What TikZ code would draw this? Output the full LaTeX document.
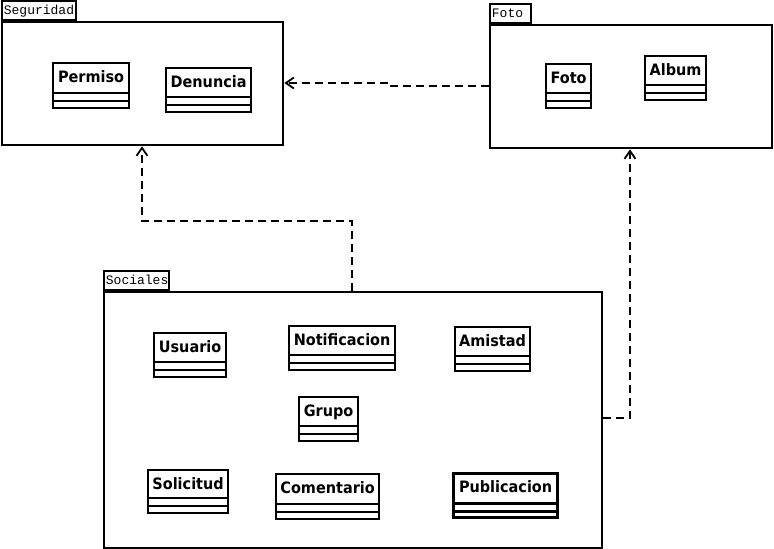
\documentclass[tikz,border=0pt]{standalone}
\usepackage{fontspec}
\newfontfamily\clsfont{DejaVu Sans}[FakeStretch=0.92]
\newfontfamily\pkgfont{Liberation Mono}
\usetikzlibrary{arrows.meta,calc}
\tikzset{
  pkg/.style={draw, line width=2.3pt, inner sep=0pt, anchor=north west},
  pkgtab/.style={draw, line width=1.8pt, inner xsep=2pt, inner ysep=0pt, minimum height=19pt,
    anchor=south west, align=left, font=\pkgfont\fontsize{13}{14}\selectfont, text height=10pt, text depth=3pt},
  clsbox/.style={draw, line width=2.2pt, inner sep=0pt, anchor=north west},
  clsname/.style={anchor=base, inner sep=0pt, font=\clsfont\bfseries\fontsize{15.7}{18}\selectfont},
  thickcls/.style={line width=3.2pt},
  dep/.style={draw, line width=2.2pt, dash pattern=on 8pt off 5pt,
    -{Straight Barb[length=8pt,width=11pt,line width=1.8pt]}},
}
\newcommand{\umlcls}[7][]{%
  \node[clsbox,#1,minimum width={#4-#2},minimum height={#5-#3}] (#6) at (#2,#3) {};
  \draw[line width=2.2pt,#1] ($(#6.south west)+(0,-16)$) -- ($(#6.south east)+(0,-16)$);
  \draw[line width=2.2pt,#1] ($(#6.south west)+(0,-8)$) -- ($(#6.south east)+(0,-8)$);
  \node[clsname] (#6t) at ($(#6.north)+(0,20)$) {#7};
}
\begin{document}
\begin{tikzpicture}[x=1pt,y=-1pt]
\useasboundingbox (0,0) rectangle (774,549);
% packages
\node[pkg, minimum width=281, minimum height=123] (seg) at (1,21) {};
\node[pkgtab, text width=70pt] (segtab) at (seg.north west) {Seguridad};
\node[pkg, minimum width=282, minimum height=123] (fot) at (489,24) {};
\node[pkgtab, text width=37pt] (fottab) at (fot.north west) {Foto};
\node[pkg, minimum width=498, minimum height=256] (soc) at (103,291) {};
\node[pkgtab, text width=61pt] (soctab) at (soc.north west) {Sociales};
% classes
\umlcls{52}{62}{128}{107}{cPermiso}{Permiso}
\umlcls{165}{67}{250}{111}{cDenuncia}{Denuncia}
\umlcls{545}{63}{590}{107}{cFoto}{Foto}
\umlcls{644}{55}{705}{99}{cAlbum}{Album}
\umlcls{153}{332}{225}{376}{cUsuario}{Usuario}
\umlcls{288}{325}{394}{369}{cNotif}{Notificacion}
\umlcls{454}{326}{529}{370}{cAmistad}{Amistad}
\umlcls{298}{396}{357}{440}{cGrupo}{Grupo}
\umlcls{147}{469}{227}{512}{cSolicitud}{Solicitud}
\umlcls{275}{473}{378}{518}{cComentario}{Comentario}
\umlcls[thickcls]{452}{472}{556}{516}{cPublicacion}{Publicacion}
% dependencies
\coordinate (k1) at (352,221);
\coordinate (k2) at (142,221);
\draw[dep] (soc.north -| k1) -- (k1) -- (k2) -- (seg.south -| k2);
\coordinate (k3) at (630,418);
\draw[dep] (soc.east |- k3) -- (k3) -- (fot.south -| k3);
\coordinate (k4) at (390,86);
\coordinate (k5) at (390,83);
\draw[dep] (fot.west |- k4) -- (k4) -- (k5) -- (seg.east |- k5);
\end{tikzpicture}
\end{document}
